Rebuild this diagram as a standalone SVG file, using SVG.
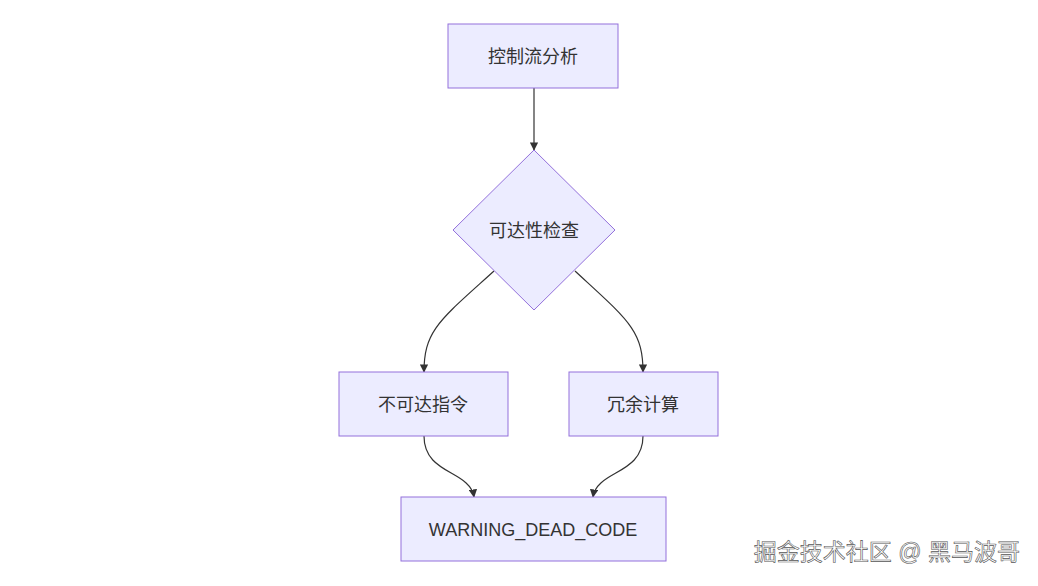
<svg xmlns="http://www.w3.org/2000/svg" width="1038" height="586" viewBox="0 0 1038 586">
<style>
.n{fill:#ECECFF;stroke:#9370DB;stroke-width:1}
.t{font-family:"Liberation Sans","Noto Sans CJK SC",sans-serif;font-size:18px;fill:#333;text-anchor:middle;dominant-baseline:central}
.e{fill:none;stroke:#333;stroke-width:1.2;marker-end:url(#a)}
</style>
<defs><marker id="a" viewBox="0 0 10 10" refX="9" refY="5" markerWidth="7" markerHeight="7" orient="auto"><path d="M0,0L10,5L0,10z" fill="#333"/></marker></defs>
<rect width="1038" height="586" fill="#fff"/>
<g id="edges">
<path class="e" d="M534,88L534,150"/>
<path class="e" d="M494,271C440,320 424,330 424,372"/>
<path class="e" d="M575,271C628,320 643,330 643,372"/>
<path class="e" d="M424,436C424,475 470,470 474,497"/>
<path class="e" d="M643,436C643,475 597,470 593,497"/>
</g>
<g id="n1"><rect class="n" x="448" y="24" width="170" height="64"/><text class="t" x="533" y="57">控制流分析</text></g>
<g id="n2"><polygon class="n" points="534,150 615,230 534,310 453,230"/><text class="t" x="534" y="231">可达性检查</text></g>
<g id="n3"><rect class="n" x="339" y="372" width="169" height="64"/><text class="t" x="423" y="405">不可达指令</text></g>
<g id="n4"><rect class="n" x="569" y="372" width="149" height="64"/><text class="t" x="643" y="405">冗余计算</text></g>
<g id="n5"><rect class="n" x="401" y="497" width="265" height="64"/><text class="t" x="533" y="530">WARNING_DEAD_CODE</text></g>
<text x="1020" y="552" font-family="Liberation Sans,'Noto Sans CJK SC',sans-serif" font-size="23" fill="#fff" stroke="#555" stroke-width="0.6" text-anchor="end" dominant-baseline="central">掘金技术社区 @ 黑马波哥</text>
</svg>
